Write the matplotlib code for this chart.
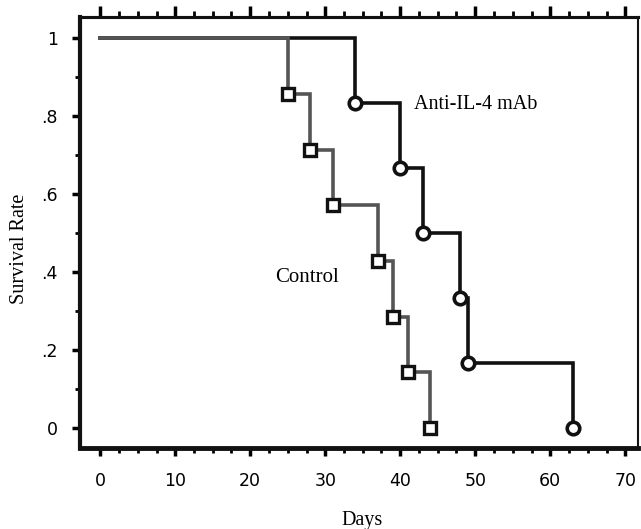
import matplotlib
matplotlib.use("Agg")
import matplotlib.pyplot as plt
import numpy as np

# Data
control_days = [0, 25, 28, 31, 37, 39, 41, 44]
control_surv = [1.0, 0.857, 0.714, 0.571, 0.429, 0.286, 0.143, 0.0]
anti_days = [0, 34, 40, 43, 48, 49, 63]
anti_surv = [1.0, 0.833, 0.667, 0.5, 0.333, 0.167, 0.0]

xticks = [0, 10, 20, 30, 40, 50, 60, 70]
yticks = [0, 0.2, 0.4, 0.6, 0.8, 1.0]
ytick_labels = ["0", ".2", ".4", ".6", ".8", "1"]

W, H = 641, 529
fig = plt.figure(figsize=(W/100, H/100), dpi=100)
ax = fig.add_axes([80/W, 81/H, (638-80)/W, (448-17)/H])

ax.step(anti_days, anti_surv, where="post", color="#111111", lw=2.6, zorder=2, solid_joinstyle="miter")
ax.step(control_days, control_surv, where="post", color="#555555", lw=2.6, zorder=3, solid_joinstyle="miter")
ax.plot(anti_days[1:], anti_surv[1:], ls="none", marker="o", ms=9, mfc="white", mec="#111111", mew=2.6, zorder=4)
ax.plot(control_days[1:], control_surv[1:], ls="none", marker="s", ms=8.5, mfc="white", mec="#111111", mew=2.4, zorder=5)

ax.set_xlim(-2.7, 71.7)
ax.set_ylim(-0.051, 1.054)

ax.set_xticks(xticks)
ax.set_xticklabels([str(t) for t in xticks], fontsize=12.5, family="DejaVu Sans")
ax.set_xticks(np.arange(0, 72, 2.5), minor=True)
ax.set_yticks(yticks)
ax.set_yticklabels(ytick_labels, fontsize=12.5, family="DejaVu Sans")
ax.set_yticks(np.arange(0, 1.05, 0.1), minor=True)

ax.tick_params(axis="x", which="major", direction="out", length=6, width=2.5, pad=11, top=False, bottom=True)
ax.tick_params(axis="x", which="minor", direction="out", length=3.5, width=2, top=False, bottom=True)
ax.tick_params(axis="y", which="major", direction="out", length=6, width=2.5, pad=10, right=False)
ax.tick_params(axis="y", which="minor", direction="out", length=3.5, width=2, right=False)

# top axis ticks (longer majors, no labels)
top = ax.secondary_xaxis("top")
top.set_xticks(xticks)
top.set_xticks(np.arange(0, 72, 2.5), minor=True)
top.tick_params(axis="x", which="major", direction="out", length=8, width=2.5, labeltop=False)
top.tick_params(axis="x", which="minor", direction="out", length=4, width=2)
top.spines["top"].set_linewidth(2.2)
top.spines["top"].set_color("#111111")

for s, w in [("left", 3), ("bottom", 3.5), ("top", 2.2), ("right", 1.5)]:
    ax.spines[s].set_linewidth(w)
    ax.spines[s].set_color("#111111")

fig.text(362/W, 1 - 520/H, "Days", fontsize=14.5, family="Liberation Serif", ha="center", va="center")
fig.text(20/W, 1 - 249/H, "Survival Rate", fontsize=14.5, family="Liberation Serif", ha="center", va="center", rotation=90)

ax.text(41.9, 0.83, "Anti-IL-4 mAb", fontsize=14.5, family="Liberation Serif", va="center", ha="left")
ax.text(23.3, 0.385, "Control", fontsize=15, family="Liberation Serif", va="center", ha="left")

fig.savefig("out.png", dpi=100)
